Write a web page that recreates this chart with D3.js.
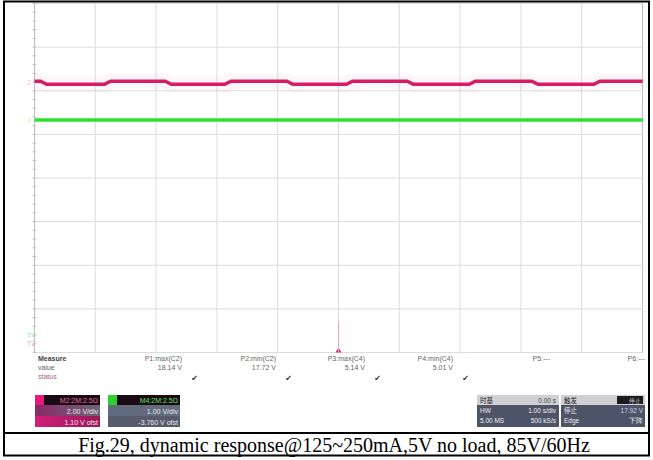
<!DOCTYPE html>
<html><head><meta charset="utf-8">
<script src="https://cdn.jsdelivr.net/npm/d3@7"></script>
<style>html,body{margin:0;padding:0;background:#fff;}svg{display:block;}</style>
</head><body>
<script>
const timeDiv  = [0, 0.1, 0.2, 1.15, 1.25, 2.15, 2.25, 3.13, 3.23, 4.15, 4.25, 5.13, 5.23, 6.13, 6.23, 7.15, 7.25, 8.18, 8.28, 9.2, 9.3, 10];
const pinkDiv  = [2.22, 2.22, 2.15, 2.15, 2.22, 2.22, 2.15, 2.15, 2.22, 2.22, 2.15, 2.15, 2.22, 2.22, 2.15, 2.15, 2.22, 2.22, 2.15, 2.15, 2.22, 2.22];
const greenTime = [0, 10];
const greenDiv  = [1.33, 1.33];
const measNames  = ["P1:max(C2)", "P2:min(C2)", "P3:max(C4)", "P4:min(C4)", "P5:---", "P6:---"];
const measValues = ["18.14 V", "17.72 V", "5.14 V", "5.01 V", "", ""];
const caption = "Fig.29, dynamic response@125~250mA,5V no load, 85V/60Hz";

const W = 653, H = 460;
const svg = d3.select("body").append("svg").attr("width", W).attr("height", H);

// table borders
svg.append("rect").attr("x", 4).attr("y", 1.5).attr("width", 645).attr("height", 454)
  .attr("fill", "none").attr("stroke", "#000").attr("stroke-width", 2);
svg.append("line").attr("x1", 4).attr("x2", 649).attr("y1", 433).attr("y2", 433)
  .attr("stroke", "#000").attr("stroke-width", 2);

const x = d3.scaleLinear().domain([0, 10]).range([34.5, 642.5]);
const y = d3.scaleLinear().domain([-4, 4]).range([352.5, 3.5]);

// grid
const g = svg.append("g");
g.selectAll(".vg").data(d3.range(0, 11)).join("line")
  .attr("x1", d => x(d)).attr("x2", d => x(d)).attr("y1", y(4)).attr("y2", y(-4))
  .attr("stroke", d => (d === 0 || d === 10) ? "#bdbdbd" : "#dcdcdc").attr("stroke-width", 1);
g.selectAll(".hg").data(d3.range(-4, 5)).join("line")
  .attr("y1", d => y(d)).attr("y2", d => y(d)).attr("x1", x(0)).attr("x2", x(10))
  .attr("stroke", "#dcdcdc").attr("stroke-width", 1);
// minor ticks on left axis
const minor = d3.range(-4, 4.001, 0.2);
g.selectAll(".mt").data(minor).join("line")
  .attr("x1", x(0) - 2).attr("x2", x(0) + 2).attr("y1", d => y(d)).attr("y2", d => y(d))
  .attr("stroke", "#c4c4c4");

// traces
const line = d3.line().x(d => x(d[0])).y(d => y(d[1]));
const pinkData = timeDiv.map((t, i) => [t, pinkDiv[i]]);
const greenData = greenTime.map((t, i) => [t, greenDiv[i]]);
svg.append("path").datum(pinkData).attr("d", line).attr("fill", "none")
  .attr("stroke", "#f07ab0").attr("stroke-opacity", 0.06).attr("stroke-width", 16);
svg.append("path").datum(pinkData).attr("d", line).attr("fill", "none")
  .attr("stroke", "#d81b63").attr("stroke-width", 3.5);
svg.append("path").datum(greenData).attr("d", line).attr("fill", "none")
  .attr("stroke", "#2ee02e").attr("stroke-width", 3.5);

// channel markers on left
svg.append("text").attr("x", 27).attr("y", y(2.2) + 3).attr("font-size", 7).attr("fill", "#f3c0d8").attr("font-family", "DejaVu Sans").text("2");
svg.append("text").attr("x", 27).attr("y", y(1.33) + 3).attr("font-size", 7).attr("fill", "#f1e3a0").attr("font-family", "DejaVu Sans").text("4");
svg.append("text").attr("x", 27).attr("y", 338).attr("font-size", 7).attr("fill", "#9ee09e").attr("font-family", "DejaVu Sans").text("T4");
svg.append("text").attr("x", 27).attr("y", 346).attr("font-size", 7).attr("fill", "#e6a7cb").attr("font-family", "DejaVu Sans").text("T2");
// trigger marker
svg.append("path").attr("d", `M${x(5)-3},${y(-4)} L${x(5)+3},${y(-4)} L${x(5)},${y(-4)-5}Z`).attr("fill", "#e0206a");
svg.append("line").attr("x1", x(5)).attr("x2", x(5)).attr("y1", y(-3.3)).attr("y2", y(-4)).attr("stroke", "#f0a0c0");

// measurement table
const mf = "Liberation Sans, Arial, sans-serif";
svg.append("text").attr("x", 38).attr("y", 361).attr("font-size", 7).attr("font-weight", "bold").attr("fill", "#444").attr("font-family", mf).text("Measure");
svg.append("text").attr("x", 38).attr("y", 370).attr("font-size", 7).attr("fill", "#666").attr("font-family", mf).text("value");
svg.append("text").attr("x", 38).attr("y", 379).attr("font-size", 7).attr("fill", "#a0628a").attr("font-family", mf).text("status");
const colX = [182, 276, 365, 453, 550, 645];
measNames.forEach((n, i) => {
  svg.append("text").attr("x", colX[i]).attr("y", 361).attr("font-size", 7).attr("text-anchor", "end").attr("fill", "#666").attr("font-family", mf).text(n);
  if (measValues[i]) {
    svg.append("text").attr("x", colX[i]).attr("y", 370).attr("font-size", 7).attr("text-anchor", "end").attr("fill", "#666").attr("font-family", mf).text(measValues[i]);
    svg.append("text").attr("x", colX[i] + 16).attr("y", 381).attr("font-size", 8).attr("text-anchor", "end").attr("fill", "#333").attr("font-family", "DejaVu Sans").text("✔");
  }
});

// channel boxes
function chBox(x0, w, sq, hdrText, hdrCol, r1, r2, r1fill, r2fill, txtCol) {
  const b = svg.append("g");
  b.append("rect").attr("x", x0).attr("y", 395).attr("width", 9).attr("height", 10).attr("fill", sq);
  b.append("rect").attr("x", x0 + 9).attr("y", 395).attr("width", w - 9).attr("height", 10).attr("fill", "#1a0a14");
  b.append("text").attr("x", x0 + w - 2).attr("y", 403).attr("font-size", 7).attr("text-anchor", "end").attr("fill", hdrCol).attr("font-family", mf).text(hdrText);
  b.append("rect").attr("x", x0).attr("y", 405).attr("width", w).attr("height", 11).attr("fill", r1fill);
  b.append("text").attr("x", x0 + w - 2).attr("y", 413.5).attr("font-size", 7).attr("text-anchor", "end").attr("fill", txtCol).attr("font-family", mf).text(r1);
  b.append("rect").attr("x", x0).attr("y", 416).attr("width", w).attr("height", 11).attr("fill", r2fill);
  b.append("text").attr("x", x0 + w - 2).attr("y", 424.5).attr("font-size", 7).attr("text-anchor", "end").attr("fill", txtCol).attr("font-family", mf).text(r2);
}
const defs = svg.append("defs");
const g1 = defs.append("linearGradient").attr("id", "pk1");
g1.append("stop").attr("offset", "0").attr("stop-color", "#8a2a66");
g1.append("stop").attr("offset", "1").attr("stop-color", "#6b6578");
const g2 = defs.append("linearGradient").attr("id", "pk2");
g2.append("stop").attr("offset", "0").attr("stop-color", "#d21e7a");
g2.append("stop").attr("offset", "1").attr("stop-color", "#9a1858");
chBox(35, 65, "#e8187c", "M2:2M:2.5Ω", "#e06aa0", "2.00 V/div", "1.10 V ofst", "url(#pk1)", "url(#pk2)", "#f2e6ee");
chBox(108, 72, "#2fd12f", "M4:2M:2.5Ω", "#5fe05f", "1.00 V/div", "-3.760 V ofst", "#626a7e", "#575c6c", "#e8eaf0");

// timebase / trigger box
const tb = svg.append("g");
tb.append("rect").attr("x", 477).attr("y", 395).attr("width", 82).attr("height", 10).attr("fill", "#cfcfd4");
tb.append("rect").attr("x", 477).attr("y", 405).attr("width", 82).attr("height", 22).attr("fill", "#4e5468");
tb.append("text").attr("x", 480).attr("y", 403).attr("font-size", 6.5).attr("fill", "#222").attr("font-family", "Noto Sans CJK SC").text("时基");
tb.append("text").attr("x", 556).attr("y", 403).attr("font-size", 6.5).attr("text-anchor", "end").attr("fill", "#444").attr("font-family", mf).text("0.00 s");
tb.append("text").attr("x", 480).attr("y", 413).attr("font-size", 6.5).attr("fill", "#eee").attr("font-family", mf).text("HW");
tb.append("text").attr("x", 556).attr("y", 413).attr("font-size", 6.5).attr("text-anchor", "end").attr("fill", "#eee").attr("font-family", mf).text("1.00 s/div");
tb.append("text").attr("x", 480).attr("y", 423).attr("font-size", 6.5).attr("fill", "#eee").attr("font-family", mf).text("5.00 MS");
tb.append("text").attr("x", 556).attr("y", 423).attr("font-size", 6.5).attr("text-anchor", "end").attr("fill", "#eee").attr("font-family", mf).text("500 kS/s");
tb.append("rect").attr("x", 561).attr("y", 395).attr("width", 84).attr("height", 10).attr("fill", "#cfcfd4");
tb.append("rect").attr("x", 561).attr("y", 405).attr("width", 84).attr("height", 22).attr("fill", "#4e5468");
tb.append("text").attr("x", 564).attr("y", 403).attr("font-size", 6.5).attr("fill", "#222").attr("font-family", "Noto Sans CJK SC").text("触发");
tb.append("rect").attr("x", 617).attr("y", 396).attr("width", 26).attr("height", 8).attr("fill", "#1b1b22");
tb.append("text").attr("x", 641).attr("y", 402.5).attr("font-size", 6).attr("text-anchor", "end").attr("fill", "#ddd").attr("font-family", mf).text("停止");
tb.append("text").attr("x", 564).attr("y", 413).attr("font-size", 6.5).attr("fill", "#eee").attr("font-family", "Noto Sans CJK SC").text("停止");
tb.append("text").attr("x", 643).attr("y", 413).attr("font-size", 6.5).attr("text-anchor", "end").attr("fill", "#c9d3f0").attr("font-family", mf).text("17.92 V");
tb.append("text").attr("x", 564).attr("y", 423).attr("font-size", 6.5).attr("fill", "#eee").attr("font-family", mf).text("Edge");
tb.append("text").attr("x", 643).attr("y", 423).attr("font-size", 6.5).attr("text-anchor", "end").attr("fill", "#eee").attr("font-family", mf).text("下降");

// caption
svg.append("text").attr("x", 334).attr("y", 452).attr("text-anchor", "middle")
  .attr("font-family", "Liberation Serif, Times New Roman, serif").attr("font-size", 20).attr("fill", "#000").text(caption);
</script>
</body></html>
